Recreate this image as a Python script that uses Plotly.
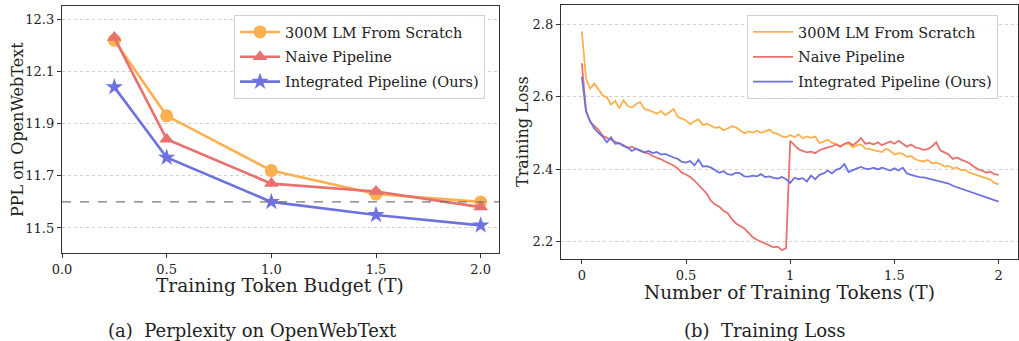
import plotly.graph_objects as go

# ---------------- data: left panel ----------------
budget = [0.25, 0.5, 1.0, 1.5, 2.0]
ppl_scratch = [12.22, 11.93, 11.72, 11.63, 11.60]
ppl_naive = [12.23, 11.84, 11.67, 11.64, 11.58]
ppl_ours = [12.04, 11.77, 11.60, 11.55, 11.51]
ref_ppl = 11.60
left_xticks = [0.0, 0.5, 1.0, 1.5, 2.0]
left_yticks = [11.5, 11.7, 11.9, 12.1, 12.3]

# ---------------- data: right panel ----------------
tokens = [round(i * 0.02, 2) for i in range(101)]
loss_scratch = [
    2.780, 2.650, 2.622, 2.636, 2.620, 2.603, 2.598, 2.578, 2.588, 2.568,
    2.590, 2.574, 2.570, 2.579, 2.585, 2.566, 2.563, 2.558, 2.553, 2.560,
    2.549, 2.556, 2.566, 2.544, 2.540, 2.534, 2.524, 2.532, 2.537, 2.522,
    2.525, 2.520, 2.514, 2.516, 2.507, 2.512, 2.518, 2.515, 2.508, 2.499,
    2.504, 2.501, 2.506, 2.500, 2.504, 2.509, 2.500, 2.497, 2.490, 2.488,
    2.494, 2.488, 2.496, 2.485, 2.490, 2.486, 2.490, 2.472, 2.476, 2.481,
    2.473, 2.470, 2.462, 2.468, 2.471, 2.460, 2.466, 2.468, 2.457, 2.456,
    2.452, 2.449, 2.447, 2.456, 2.450, 2.440, 2.444, 2.442, 2.434, 2.436,
    2.427, 2.423, 2.421, 2.425, 2.416, 2.418, 2.414, 2.407, 2.409, 2.402,
    2.404, 2.397, 2.398, 2.390, 2.386, 2.384, 2.379, 2.376, 2.371, 2.362,
    2.358,
]
loss_naive = [
    2.692, 2.560, 2.530, 2.518, 2.508, 2.492, 2.486, 2.480, 2.476, 2.470,
    2.466, 2.458, 2.462, 2.455, 2.450, 2.446, 2.443, 2.436, 2.432, 2.427,
    2.421, 2.416, 2.410, 2.402, 2.390, 2.385, 2.378, 2.368, 2.355, 2.342,
    2.332, 2.312, 2.302, 2.296, 2.285, 2.278, 2.262, 2.250, 2.242, 2.236,
    2.224, 2.212, 2.205, 2.200, 2.194, 2.188, 2.184, 2.186, 2.176, 2.182,
    2.478, 2.466, 2.455, 2.450, 2.446, 2.448, 2.444, 2.452, 2.457, 2.460,
    2.463, 2.468, 2.462, 2.470, 2.474, 2.466, 2.474, 2.486, 2.470, 2.472,
    2.468, 2.474, 2.466, 2.472, 2.476, 2.470, 2.478, 2.470, 2.462, 2.468,
    2.460, 2.457, 2.453, 2.455, 2.462, 2.474, 2.452, 2.446, 2.440, 2.428,
    2.432, 2.426, 2.420, 2.416, 2.407, 2.400, 2.396, 2.390, 2.393, 2.386,
    2.384,
]
loss_ours = [
    2.655, 2.560, 2.532, 2.512, 2.500, 2.490, 2.474, 2.488, 2.470, 2.472,
    2.463, 2.460, 2.450, 2.456, 2.452, 2.446, 2.450, 2.444, 2.447, 2.440,
    2.442, 2.436, 2.432, 2.428, 2.420, 2.418, 2.422, 2.410, 2.426, 2.407,
    2.408, 2.404, 2.398, 2.390, 2.394, 2.386, 2.384, 2.390, 2.388, 2.380,
    2.379, 2.382, 2.380, 2.386, 2.378, 2.380, 2.376, 2.374, 2.378, 2.372,
    2.362, 2.376, 2.372, 2.375, 2.366, 2.382, 2.372, 2.384, 2.388, 2.396,
    2.388, 2.398, 2.402, 2.414, 2.392, 2.398, 2.402, 2.406, 2.401, 2.400,
    2.404, 2.399, 2.404, 2.400, 2.396, 2.402, 2.396, 2.404, 2.388, 2.384,
    2.380, 2.378, 2.377, 2.374, 2.372, 2.368, 2.366, 2.363, 2.360, 2.354,
    2.350, 2.346, 2.341, 2.336, 2.332, 2.330, 2.325, 2.322, 2.318, 2.314,
    2.310,
]
right_xticks = [0, 0.5, 1, 1.5, 2]
right_xlabels = ["0", "0.5", "1", "1.5", "2"]
right_yticks = [2.2, 2.4, 2.6, 2.8]

names = ["300M LM From Scratch", "Naive Pipeline", "Integrated Pipeline (Ours)"]
colors = ["#FDB04F", "#E8706D", "#6E72DE"]
symbols = ["circle", "triangle-up", "star"]

FONT = "DejaVu Serif"
W, H = 1019, 341

fig = go.Figure()

# left panel
for i, (ys, name, c, s) in enumerate(zip([ppl_scratch, ppl_naive, ppl_ours], names, colors, symbols)):
    fig.add_trace(go.Scatter(
        x=budget, y=ys, name=name, mode="lines+markers",
        line=dict(color=c, width=2.6),
        marker=dict(symbol=s, size=13, color=c, line=dict(width=0)),
        xaxis="x", yaxis="y", legend="legend", legendgroup=f"a{i}",
    ))

# right panel
for i, (ys, name, c) in enumerate(zip([loss_scratch, loss_naive, loss_ours], names, colors)):
    fig.add_trace(go.Scatter(
        x=tokens, y=ys, name=name, mode="lines",
        line=dict(color=c, width=1.8),
        xaxis="x2", yaxis="y2", legend="legend2", legendgroup=f"b{i}",
    ))

axis_common = dict(
    showline=True, linecolor="#333333", linewidth=1.3, mirror=True,
    ticks="outside", ticklen=4, tickcolor="#333333",
    tickfont=dict(family=FONT, size=13, color="#222222"),
    zeroline=False, automargin=False,
)
grid = dict(showgrid=True, gridcolor="#d0d0d0", griddash="dot", gridwidth=0.8)


def px(x):
    return x / W


def py(y):
    return 1 - y / H


legend_common = dict(
    xanchor="left", yanchor="top",
    bgcolor="rgba(255,255,255,0.9)", bordercolor="#d0d0d0", borderwidth=1,
    font=dict(family=FONT, size=14.5, color="#222222"),
    itemwidth=40, tracegroupgap=3,
)

fig.update_layout(
    width=W, height=H,
    margin=dict(l=0, r=0, t=0, b=0),
    paper_bgcolor="white", plot_bgcolor="white",
    font=dict(family=FONT, color="#222222"),
    xaxis=dict(domain=[px(62), px(499)], range=[0.0, 2.0875],
               tickvals=left_xticks, ticktext=[f"{v:.1f}" for v in left_xticks],
               showgrid=False, anchor="y", **axis_common),
    yaxis=dict(domain=[py(253), py(6)], range=[11.404, 12.351],
               tickvals=left_yticks, ticktext=[f"{v:.1f}" for v in left_yticks],
               anchor="x", **grid, **axis_common),
    xaxis2=dict(domain=[px(561), px(1018)], range=[-0.1, 2.093],
                tickvals=right_xticks, ticktext=right_xlabels,
                showgrid=False, anchor="y2", **axis_common),
    yaxis2=dict(domain=[py(259.3), py(5.3)], range=[2.151, 2.852],
                tickvals=right_yticks, ticktext=[f"{v:.1f}" for v in right_yticks],
                anchor="x2", **grid, **axis_common),
    legend=dict(x=px(234), y=py(15), **legend_common),
    legend2=dict(x=px(747), y=py(15), **legend_common),
    shapes=[dict(type="line", xref="x domain", yref="y", x0=0, x1=1, y0=ref_ppl, y1=ref_ppl,
                 line=dict(color="#777777", width=1.3, dash="dash"))],
)

titles = [
    ("Training Token Budget (T)", 280, 285, 0, 18.5),
    ("Number of Training Tokens (T)", 789, 292, 0, 18.5),
    ("PPL on OpenWebText", 17, 130, -90, 16),
    ("Training Loss", 522, 132, -90, 16),
    ("(a)  Perplexity on OpenWebText", 252, 330, 0, 18),
    ("(b)  Training Loss", 765, 330, 0, 18),
]
for text, x, y, ang, size in titles:
    fig.add_annotation(text=text, xref="paper", yref="paper", x=px(x), y=py(y),
                       xanchor="center", yanchor="middle", showarrow=False, textangle=ang,
                       font=dict(family=FONT, size=size, color="#222222"))

fig.write_html(
    "out.html",
    config={"displayModeBar": False},
    post_script="document.body.style.margin='0';document.body.style.overflow='hidden';",
)
